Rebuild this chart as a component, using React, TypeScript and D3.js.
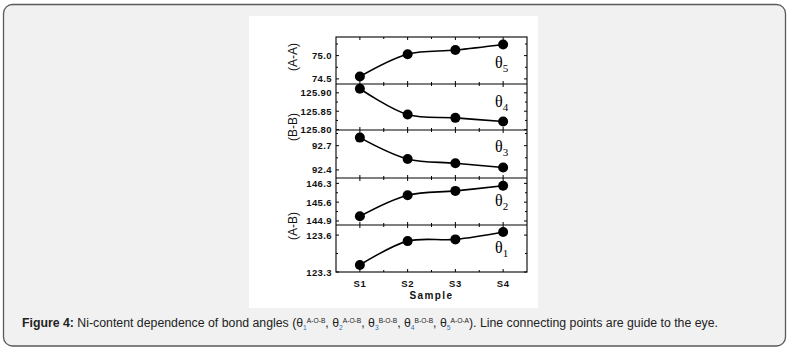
import * as d3 from "d3";

const samples = ["S1", "S2", "S3", "S4"];

// bond angles per sample (deg)
const theta5 = [74.55, 75.03, 75.12, 75.24];
const theta4 = [125.911, 125.841, 125.832, 125.822];
const theta3 = [92.8, 92.536, 92.483, 92.43];
const theta2 = [145.075, 145.86, 146.02, 146.21];
const theta1 = [123.357, 123.551, 123.565, 123.625];

const ticks5 = [74.5, 75.0];
const ticks4 = [125.8, 125.85, 125.9];
const ticks3 = [92.4, 92.7];
const ticks2 = [144.9, 145.6, 146.3];
const ticks1 = [123.3, 123.6];

const groupLabels = ["(A-A)", "(B-B)", "(A-B)"];

const W = 790;
const H = 352;
const plotLeft = 336;
const plotRight = 527;
const edges = [37, 84, 130, 178, 225, 272];

const panels = [
  { sub: "5", values: theta5, ticks: ticks5, fmt: ".1f", domain: [74.39, 75.4], labelDy: 31 },
  { sub: "4", values: theta4, ticks: ticks4, fmt: ".2f", domain: [125.799, 125.924], labelDy: 23 },
  { sub: "3", values: theta3, ticks: ticks3, fmt: ".1f", domain: [92.3, 92.894], labelDy: 22 },
  { sub: "2", values: theta2, ticks: ticks2, fmt: ".1f", domain: [144.75, 146.5], labelDy: 28 },
  { sub: "1", values: theta1, ticks: ticks1, fmt: ".1f", domain: [123.3, 123.682], labelDy: 28 },
];

const groupPos = [57, 127, 226];

const tickFont = "'Liberation Sans', Arial, sans-serif";

export default function App() {
  const x = d3.scaleLinear().domain([0.5, 4.5]).range([plotLeft, plotRight]);
  const xMajor = samples.map((_, i) => i + 1);
  const xMinor = d3.range(1, 4.5, 0.5).filter((v) => v % 1 !== 0);

  return (
    <svg width={W} height={H} style={{ position: "absolute", left: 0, top: 0 }}>
      <rect x={3.5} y={4.5} width={782} height={341.5} rx={9} fill="#f1f1f1" stroke="#5a5a5a" strokeWidth={1.3} />
      <rect x={249} y={16} width={289} height={292} fill="#fff" />

      {panels.map((p, k) => {
        const top = edges[k];
        const bottom = edges[k + 1];
        const y = d3.scaleLinear().domain(p.domain).range([bottom, top]);
        const step = p.ticks[1] - p.ticks[0];
        const minor: number[] = [];
        for (let v = p.ticks[0] - step / 2; v <= p.domain[1] + 1e-9; v += step / 2) {
          if (v >= p.domain[0] - 1e-9 && !p.ticks.some((t) => Math.abs(t - v) < 1e-9)) minor.push(v);
        }
        const line = d3
          .line<number>()
          .x((_, i) => x(i + 1))
          .y((d) => y(d))
          .curve(d3.curveCatmullRom.alpha(0.5));
        const fmt = d3.format(p.fmt);
        return (
          <g key={p.sub}>
            {p.ticks.map((t) => (
              <g key={t}>
                <line x1={plotLeft} x2={plotLeft + 3} y1={y(t)} y2={y(t)} stroke="#000" />
                <line x1={plotRight} x2={plotRight - 3} y1={y(t)} y2={y(t)} stroke="#000" />
                <text x={plotLeft - 4} y={y(t) + 3.5} textAnchor="end" fontFamily={tickFont}
                  fontWeight="bold" fontSize={9.5} letterSpacing={0.4} fill="#111">
                  {fmt(t)}
                </text>
              </g>
            ))}
            {minor.map((t) => (
              <g key={"m" + t}>
                <line x1={plotLeft} x2={plotLeft + 2} y1={y(t)} y2={y(t)} stroke="#000" />
                <line x1={plotRight} x2={plotRight - 2} y1={y(t)} y2={y(t)} stroke="#000" />
              </g>
            ))}
            {xMajor.map((v) => (
              <g key={"x" + v}>
                <line x1={x(v)} x2={x(v)} y1={bottom} y2={bottom - 3} stroke="#000" />
                <line x1={x(v)} x2={x(v)} y1={top} y2={top + 3} stroke="#000" />
              </g>
            ))}
            {xMinor.map((v) => (
              <g key={"xm" + v}>
                <line x1={x(v)} x2={x(v)} y1={bottom} y2={bottom - 2} stroke="#000" />
                <line x1={x(v)} x2={x(v)} y1={top} y2={top + 2} stroke="#000" />
              </g>
            ))}
            <path d={line(p.values) ?? ""} fill="none" stroke="#000" strokeWidth={1.6} />
            {p.values.map((v, i) => (
              <circle key={i} cx={x(i + 1)} cy={y(v)} r={5} fill="#000" />
            ))}
            <text x={495} y={top + p.labelDy} fontFamily="'Liberation Serif', 'Times New Roman', serif"
              fontSize={16} fill="#000">
              θ
              <tspan dy={4} fontSize={11}>{p.sub}</tspan>
            </text>
          </g>
        );
      })}

      {edges.slice(1, -1).map((e) => (
        <line key={e} x1={plotLeft} x2={plotRight} y1={e} y2={e} stroke="#000" strokeWidth={1.1} />
      ))}
      <rect x={plotLeft} y={edges[0]} width={plotRight - plotLeft} height={edges[5] - edges[0]}
        fill="none" stroke="#000" strokeWidth={1.1} />

      {groupLabels.map((g, i) => (
        <text key={g} transform={`translate(297,${groupPos[i]}) rotate(-90)`} textAnchor="middle"
          fontFamily={tickFont} fontSize={12} fill="#111">
          {g}
        </text>
      ))}

      {samples.map((s, i) => (
        <text key={s} x={x(i + 1)} y={287} textAnchor="middle" fontFamily={tickFont}
          fontWeight="bold" fontSize={9.5} letterSpacing={0.6} fill="#111">
          {s}
        </text>
      ))}
      <text x={(plotLeft + plotRight) / 2} y={299} textAnchor="middle" fontFamily={tickFont}
        fontWeight="bold" fontSize={10} letterSpacing={1.4} fill="#111">
        Sample
      </text>

      <text x={22} y={327} fontFamily={tickFont} fontSize={12} fill="#222"
        textLength={696} lengthAdjust="spacingAndGlyphs">
        <tspan fontWeight="bold">Figure 4:</tspan>
        <tspan> Ni-content dependence of bond angles (θ</tspan>
        <tspan fontSize={6.5} dy={3} fill="#2a6ebb">1</tspan>
        <tspan fontSize={6.5} dy={-7}>A-O-B</tspan>
        <tspan dy={4}>, θ</tspan>
        <tspan fontSize={6.5} dy={3} fill="#2a6ebb">2</tspan>
        <tspan fontSize={6.5} dy={-7}>A-O-B</tspan>
        <tspan dy={4}>, θ</tspan>
        <tspan fontSize={6.5} dy={3} fill="#2a6ebb">3</tspan>
        <tspan fontSize={6.5} dy={-7}>B-O-B</tspan>
        <tspan dy={4}>, θ</tspan>
        <tspan fontSize={6.5} dy={3} fill="#2a6ebb">4</tspan>
        <tspan fontSize={6.5} dy={-7}>B-O-B</tspan>
        <tspan dy={4}>, θ</tspan>
        <tspan fontSize={6.5} dy={3} fill="#2a6ebb">5</tspan>
        <tspan fontSize={6.5} dy={-7}>A-O-A</tspan>
        <tspan dy={4}>). Line connecting points are guide to the eye.</tspan>
      </text>
    </svg>
  );
}
